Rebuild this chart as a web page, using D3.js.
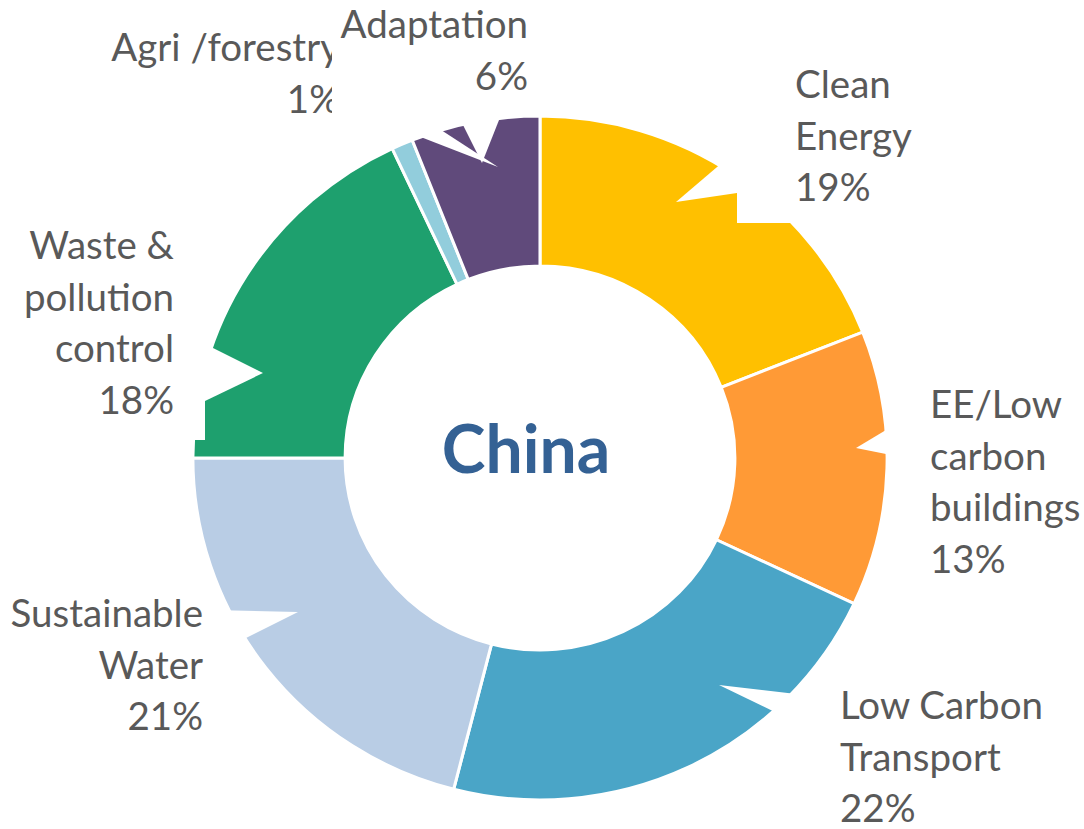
<!DOCTYPE html>
<html>
<head>
<meta charset="utf-8">
<script src="https://cdn.jsdelivr.net/npm/d3@7"></script>
<style>
  html, body { margin: 0; padding: 0; background: #fff; }
  svg { display: block; }
</style>
</head>
<body>
<svg id="chart" width="1084" height="829"></svg>
<script>
// ---- data ----
const categories = ["Clean Energy", "EE/Low carbon buildings", "Low Carbon Transport",
  "Sustainable Water", "Waste & pollution control", "Agri /forestry", "Adaptation"];
const values = [19, 13, 22, 21, 18, 1, 6];
const labelLines = [["Clean", "Energy"], ["EE/Low", "carbon", "buildings"], ["Low Carbon", "Transport"],
  ["Sustainable", "Water"], ["Waste &", "pollution", "control"], ["Agri /forestry"], ["Adaptation"]];
const colors = ["#FFC000", "#FF9A36", "#4AA5C7", "#B9CDE5", "#1EA06E", "#92CDDC", "#604A7B"];
const centerTitle = "China";

// ---- layout (label callouts, not data) ----
const callouts = [
  { x: 795, y: 98, anchor: "start", box: [737, 40, 1000, 223], tip: [676, 202], base: [[737, 150], [737, 193]] },
  { x: 930, y: 418, anchor: "start", box: [886, 375, 1084, 590], tip: [856, 448], base: [[886, 430], [886, 454]] },
  { x: 840, y: 719, anchor: "start", box: [822, 680, 1084, 829], tip: [719, 685], base: [[822, 697], [822, 735]] },
  { x: 203, y: 627, anchor: "end", box: [0, 590, 212, 745], tip: [298, 612], base: [[212, 610], [212, 655]] },
  { x: 174, y: 259, anchor: "end", box: [0, 215, 205, 440], tip: [263, 373], base: [[205, 344], [205, 401]] },
  { x: 340, y: 61, anchor: "end", box: [90, 15, 330, 120], tip: [498, 167], base: [[364, 115], [418, 115]] },
  { x: 528, y: 38, anchor: "end", box: [332, 0, 545, 115], tip: [482, 163], base: [[458, 115], [501, 115]] }
];

const W = 1084, H = 829;
const cx = 540, cy = 458, rOuter = 342, rInner = 192, lineH = 51.5;
const svg = d3.select("#chart");

const pie = d3.pie().sort(null).value(d => d).startAngle(0).endAngle(2 * Math.PI);
const arc = d3.arc().innerRadius(rInner).outerRadius(rOuter);
const color = d3.scaleOrdinal().domain(categories).range(colors);

const g = svg.append("g").attr("transform", `translate(${cx},${cy}) scale(1.015,1)`);
const arcs = pie(values).map((a, i) => Object.assign(a, { cat: categories[i] }));
g.selectAll("path").data(arcs).join("path")
  .attr("d", arc)
  .attr("fill", d => color(d.cat))
  .attr("stroke", "#fff")
  .attr("stroke-width", 3)
  .attr("stroke-linejoin", "miter");

// center title
svg.append("text")
  .attr("x", 526).attr("y", 473)
  .attr("text-anchor", "middle")
  .attr("font-family", "Lato, 'Open Sans', sans-serif")
  .attr("font-weight", "bold")
  .attr("font-size", 66)
  .attr("fill", "#346194")
  .text(centerTitle);

// labels with white callout shapes
const labG = svg.append("g");
arcs.forEach((a, i) => {
  const c = callouts[i];
  const grp = labG.append("g");
  grp.append("rect")
    .attr("x", c.box[0]).attr("y", c.box[1])
    .attr("width", c.box[2] - c.box[0]).attr("height", c.box[3] - c.box[1])
    .attr("fill", "#fff");
  grp.append("path")
    .attr("d", d3.line()([c.base[0], c.tip, c.base[1]]) + "Z")
    .attr("fill", "#fff");
  const lines = labelLines[i].concat([d3.format(".0f")(a.value) + "%"]);
  const t = grp.append("text")
    .attr("text-anchor", c.anchor)
    .attr("font-family", "Lato, 'Open Sans', sans-serif")
    .attr("font-size", 38.5)
    .attr("fill", "#595959");
  lines.forEach((ln, k) => {
    t.append("tspan").attr("x", c.x).attr("y", c.y + k * lineH).text(ln);
  });
});
</script>
</body>
</html>
